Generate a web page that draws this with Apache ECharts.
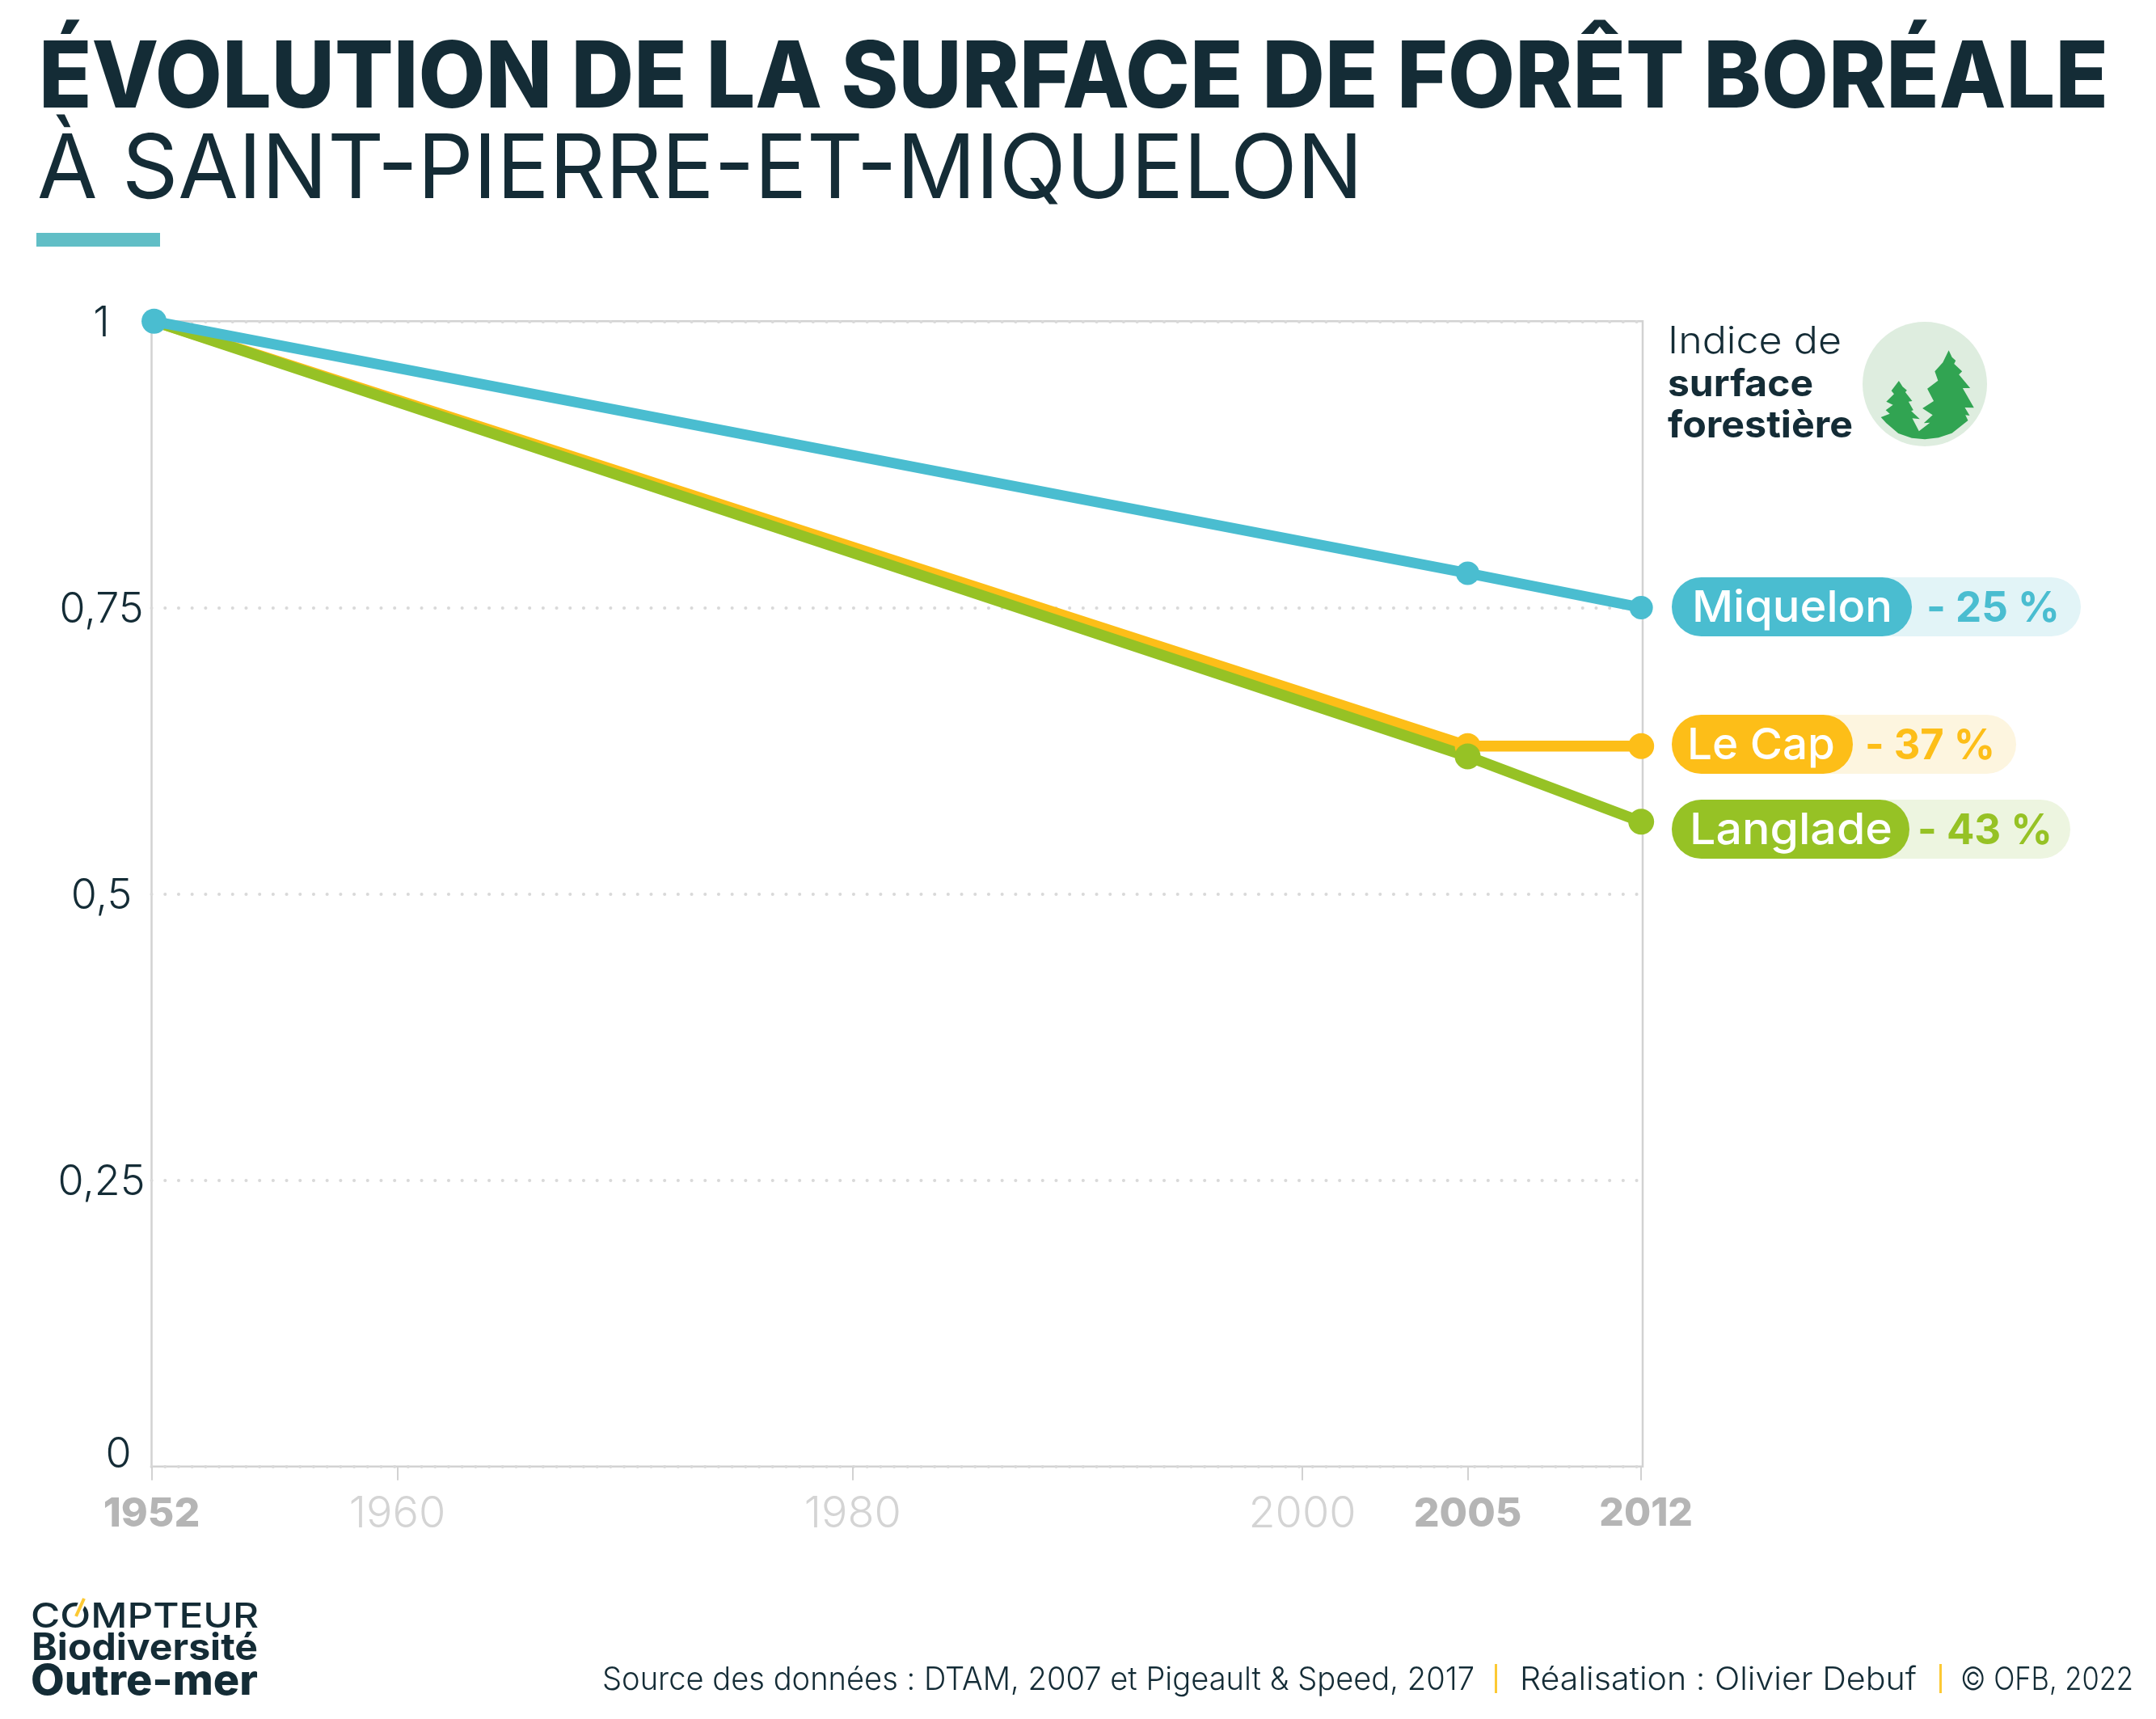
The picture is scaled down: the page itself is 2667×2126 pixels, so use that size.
<!DOCTYPE html>
<html>
<head>
<meta charset="utf-8">
<title>Surface de forêt boréale</title>
<script src="https://cdn.jsdelivr.net/npm/echarts@6/dist/echarts.min.js"></script>
<style>
html, body { margin: 0; padding: 0; background: #fff; }
#main { width: 2667px; height: 2126px; }
</style>
</head>
<body>
<div id="main"></div>
<script>
var years = [1952, 2005, 2012];
var miquelon = [1, 0.78, 0.75];
var leCap = [1, 0.629, 0.629];
var langlade = [1, 0.62, 0.563];

var xTickLabels = ['1952', '1960', '1980', '2000', '2005', '2012'];
var boldTicks = ['1952', '2005', '2012'];
// the light ticks of the reference do not sit at their true year, so they are placed by hand
var xTickAt = [1951.9, 1961.82, 1980.19, 1998.33, 2005, 2012];

var names = ['Miquelon', 'Le Cap', 'Langlade'];
var changes = ['- 25 %', '- 37 %', '- 43 %'];

var DARK = '#142C36';
var BLUE = '#4ABDD0';
var YELLOW = '#FDBE18';
var GREEN = '#96C225';
var FONT = 'Inter';

var measure = document.createElement('canvas').getContext('2d');

// text squeezed to the width it has in the reference
function txt(str, left, midY, size, weight, color, width) {
    var font = weight + ' ' + size + 'px ' + FONT;
    measure.font = font;
    return {
        type: 'text',
        x: left,
        y: midY,
        scaleX: width ? width / measure.measureText(str).width : 1,
        z: 10,
        style: { text: str, font: font, fill: color, align: 'left', verticalAlign: 'middle' }
    };
}

function pill(x, y, w, h, color) {
    return {
        type: 'rect',
        z: 5,
        shape: { x: x, y: y, width: w, height: h, r: h / 2 },
        style: { fill: color }
    };
}

function pairs(values) {
    return values.map(function (v, i) { return [years[i], v]; });
}

function lineSeries(name, values, color, width, dot, firstDot) {
    return {
        name: name,
        type: 'line',
        data: pairs(values),
        clip: false,
        showSymbol: true,
        symbol: 'circle',
        symbolSize: function (v, p) { return p.dataIndex === 0 ? firstDot : dot; },
        lineStyle: { color: color, width: width, cap: 'round' },
        itemStyle: { color: color }
    };
}

// forest icon, traced in the coordinates of a 3x crop
var treeOutline = [
    [1005,460],[985,438],[1018,425],[1003,412],[1030,392],[1005,380],[1034,352],[1024,340],[1052,303],
    [1066,325],[1082,338],[1076,345],[1102,378],[1088,380],[1106,412],[1098,415],[1130,445],[1102,442],
    [1127,490],[1168,458],[1145,460],[1178,430],[1140,405],[1182,378],[1158,332],[1198,302],[1186,268],
    [1216,235],[1238,190],[1250,215],[1264,228],[1258,240],[1288,268],[1276,280],[1318,330],[1290,330],
    [1332,403],[1298,402],[1316,432],[1300,430],[1310,450],
    [1250,497],[1200,514],[1149,520],[1100,515],[1050,498]
];

var graphics = [
    txt('ÉVOLUTION DE LA SURFACE DE FORÊT BORÉALE', 48, 99, 114, 800, DARK, 2560),
    txt('À SAINT-PIERRE-ET-MIQUELON', 46, 212, 110, 400, DARK, 1640),
    { type: 'rect', shape: { x: 45, y: 288, width: 153, height: 17 }, style: { fill: '#61BEC6' } },

    txt('Indice de', 2063, 423, 46, 300, DARK, 215),
    txt('surface', 2063, 476, 46, 700, DARK, 180),
    txt('forestière', 2063, 527, 46, 700, DARK, 229),
    { type: 'circle', shape: { cx: 2381, cy: 475, r: 77 }, style: { fill: '#DEEDDF' } },
    {
        type: 'polygon',
        x: 2000, y: 370, scaleX: 1 / 3.015, scaleY: 1 / 3,
        shape: { points: treeOutline },
        style: { fill: '#31A452' }
    },

    pill(2068, 714, 506, 73, '#E2F4F7'),
    pill(2068, 714, 297, 73, BLUE),
    txt(names[0], 2093, 753, 54, 500, '#fff', 248),
    txt(changes[0], 2383, 753, 52, 700, BLUE, 165),

    pill(2068, 884, 426, 73, '#FDF5DF'),
    pill(2068, 884, 224, 73, YELLOW),
    txt(names[1], 2087, 923, 54, 500, '#fff', 183),
    txt(changes[1], 2307, 923, 52, 700, YELLOW, 161),

    pill(2068, 989, 493, 73, '#EDF5E0'),
    pill(2068, 989, 294, 73, GREEN),
    txt(names[2], 2090, 1028, 54, 500, '#fff', 251),
    txt(changes[2], 2372, 1028, 52, 700, GREEN, 167),

    txt('COMPTEUR', 38, 2000, 43, 500, DARK, 282),
    { type: 'line', shape: { x1: 94, y1: 1999, x2: 104, y2: 1977 }, z: 11, style: { stroke: '#fff', lineWidth: 9 } },
    { type: 'line', shape: { x1: 94, y1: 1999, x2: 104, y2: 1977 }, z: 12, style: { stroke: '#FCC934', lineWidth: 4 } },
    txt('Biodiversité', 39, 2039, 46, 700, DARK, 280),
    txt('Outre-mer', 38, 2080, 52, 800, DARK, 281),

    txt('Source des données : DTAM, 2007 et Pigeault & Speed, 2017', 745, 2078, 39, 300, DARK, 1079),
    { type: 'rect', shape: { x: 1849, y: 2058, width: 3, height: 36 }, style: { fill: '#FCC934' } },
    txt('Réalisation : Olivier Debuf', 1880, 2078, 39, 300, DARK, 491),
    { type: 'rect', shape: { x: 2399, y: 2058, width: 3, height: 36 }, style: { fill: '#FCC934' } },
    txt('© OFB, 2022', 2425, 2078, 39, 300, DARK, 214)
];

var chart = echarts.init(document.getElementById('main'));

chart.setOption({
    animation: false,
    backgroundColor: '#fff',
    grid: {
        show: true,
        left: 187.5,
        top: 397.3,
        width: 1844.5,
        height: 1416.4,
        borderColor: '#D2D2D2',
        borderWidth: 2.5,
        containLabel: false
    },
    xAxis: {
        type: 'value',
        min: 1951.9,
        max: 2012.06,
        axisLine: { show: false },
        splitLine: { show: false },
        axisTick: {
            show: true,
            customValues: xTickAt,
            length: 17,
            lineStyle: { color: '#D2D2D2', width: 2 }
        },
        axisLabel: {
            show: true,
            customValues: xTickAt,
            margin: 32,
            hideOverlap: false,
            showMinLabel: true,
            showMaxLabel: true,
            verticalAlign: 'top',
            formatter: function (v) {
                var label = xTickLabels[xTickAt.indexOf(v)];
                if (label === '2012') return '{e|' + label + '}';
                return (boldTicks.indexOf(label) >= 0 ? '{b|' : '{l|') + label + '}';
            },
            rich: {
                b: { fontFamily: FONT, fontSize: 50, fontWeight: 800, color: '#B5B5B5', padding: [2, 0, 0, 0] },
                e: { fontFamily: FONT, fontSize: 48, fontWeight: 800, color: '#B5B5B5', padding: [3, 0, 0, 12] },
                l: { fontFamily: FONT, fontSize: 54, fontWeight: 300, color: '#D4D4D4' }
            }
        }
    },
    yAxis: {
        type: 'value',
        min: 0,
        max: 1,
        interval: 0.25,
        axisLine: { show: false },
        axisTick: { show: false },
        splitLine: {
            show: true,
            lineStyle: { color: '#D9D9D9', width: 4, type: [0.1, 16.6], cap: 'round' }
        },
        axisLabel: {
            margin: 62,
            align: 'center',
            formatter: function (v) {
                if (v === 0) return '{z|0}';
                return '{n|' + String(v).replace('.', ',') + '}';
            },
            rich: {
                n: { fontFamily: FONT, fontSize: 52, fontWeight: 300, color: DARK, padding: [6, 0, 0, 0] },
                z: { fontFamily: FONT, fontSize: 52, fontWeight: 300, color: DARK, padding: [0, 0, 29, 42] }
            }
        }
    },
    series: [
        lineSeries(names[1], leCap, YELLOW, 13.5, 32, 24),
        lineSeries(names[2], langlade, GREEN, 13.5, 32, 24),
        lineSeries(names[0], miquelon, BLUE, 13, 29, 31)
    ],
    graphic: { elements: graphics }
});
</script>
</body>
</html>
